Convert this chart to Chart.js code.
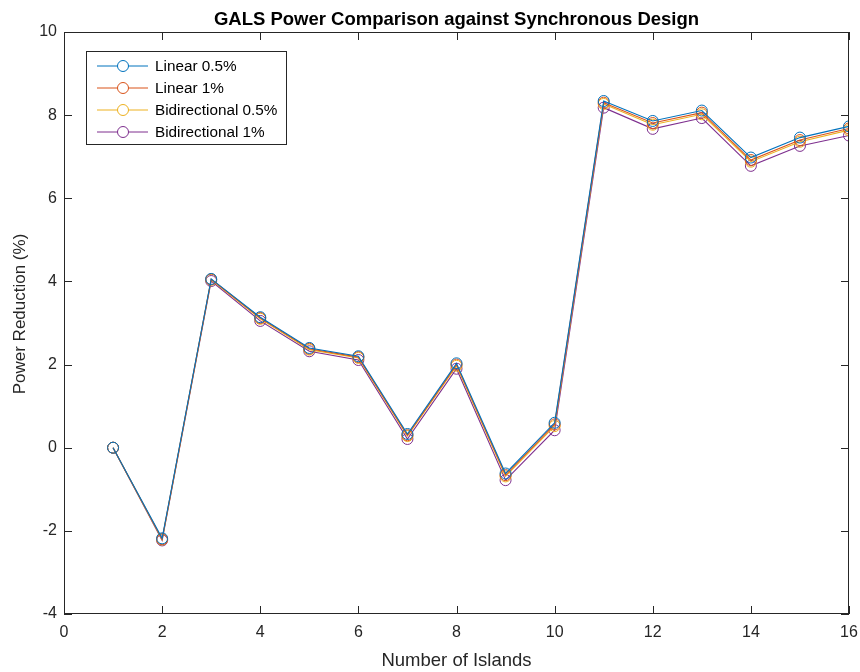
<!DOCTYPE html>
<html>
<head>
<meta charset="utf-8">
<script src="https://cdn.jsdelivr.net/npm/chart.js@4"></script>
<style>
  html, body { margin: 0; padding: 0; background: #fff; }
  canvas { display: block; }
</style>
</head>
<body>
<canvas id="galsChart" width="860" height="672"></canvas>
<script>
// islands on x axis
const islands = [1, 2, 3, 4, 5, 6, 7, 8, 9, 10, 11, 12, 13, 14, 15, 16];

const linear05 = [0, -2.18, 4.06, 3.14, 2.40, 2.20, 0.33, 2.03, -0.62, 0.60, 8.34, 7.86, 8.11, 6.98, 7.46, 7.73];
const linear1 = [0, -2.20, 4.05, 3.12, 2.38, 2.18, 0.30, 2.00, -0.66, 0.56, 8.30, 7.81, 8.06, 6.92, 7.40, 7.68];
const bidir05 = [0, -2.21, 4.04, 3.10, 2.36, 2.16, 0.28, 1.97, -0.69, 0.52, 8.27, 7.77, 8.02, 6.88, 7.36, 7.64];
const bidir1 = [0, -2.23, 4.01, 3.05, 2.32, 2.11, 0.21, 1.90, -0.78, 0.42, 8.18, 7.67, 7.93, 6.78, 7.26, 7.51];

const seriesNames = ['Linear 0.5%', 'Linear 1%', 'Bidirectional 0.5%', 'Bidirectional 1%'];
const seriesColors = ['#0072BD', '#D95319', '#EDB120', '#7E2F8E'];

const xTicks = [0, 2, 4, 6, 8, 10, 12, 14, 16];
const yTicks = [-4, -2, 0, 2, 4, 6, 8, 10];

const FONT = 'Helvetica, "Liberation Sans", Arial, sans-serif';

function toPoints(values) {
  return islands.map((x, i) => ({ x: x, y: values[i] }));
}

const allSeries = [linear05, linear1, bidir05, bidir1];

// matlab-like box, inward ticks, title, y label and legend
const matlabAxes = {
  id: 'matlabAxes',
  afterDraw(chart) {
    const c = chart.ctx;
    const a = chart.chartArea;
    const xs = chart.scales.x;
    const ys = chart.scales.y;
    c.save();
    c.strokeStyle = '#262626';
    c.lineWidth = 1;
    c.strokeRect(a.left + 0.5, a.top + 0.5, a.right - a.left - 1, a.bottom - a.top - 1);
    c.beginPath();
    xTicks.forEach(v => {
      const px = Math.round(xs.getPixelForValue(v)) + 0.5;
      c.moveTo(px, a.bottom); c.lineTo(px, a.bottom - 8);
      c.moveTo(px, a.top); c.lineTo(px, a.top + 8);
    });
    yTicks.forEach(v => {
      const py = Math.round(ys.getPixelForValue(v)) + 0.5;
      c.moveTo(a.left, py); c.lineTo(a.left + 8, py);
      c.moveTo(a.right, py); c.lineTo(a.right - 8, py);
    });
    c.stroke();

    // title
    c.fillStyle = '#000';
    c.font = 'bold 18.5px ' + FONT;
    c.textAlign = 'center';
    c.textBaseline = 'middle';
    c.fillText('GALS Power Comparison against Synchronous Design', (a.left + a.right) / 2, 20);

    // y label
    c.save();
    c.translate(20, 314);
    c.rotate(-Math.PI / 2);
    c.fillStyle = '#262626';
    c.font = '17px ' + FONT;
    c.fillText('Power Reduction (%)', 0, 0);
    c.restore();

    // legend
    const lx = 86, ly = 51, lw = 200, lh = 93;
    c.fillStyle = '#fff';
    c.fillRect(lx, ly, lw, lh);
    c.strokeStyle = '#262626';
    c.strokeRect(lx + 0.5, ly + 0.5, lw, lh);
    c.font = '15.3px ' + FONT;
    c.textAlign = 'left';
    seriesNames.forEach((name, i) => {
      const y = ly + 15 + i * 22;
      c.strokeStyle = seriesColors[i];
      c.beginPath();
      c.moveTo(97, y); c.lineTo(148, y);
      c.stroke();
      c.beginPath();
      c.arc(123, y, 5.5, 0, Math.PI * 2);
      c.fillStyle = '#fff';
      c.fill();
      c.stroke();
      c.fillStyle = '#000';
      c.fillText(name, 155, y + 1);
    });
    c.restore();
  }
};

new Chart(document.getElementById('galsChart'), {
  type: 'line',
  data: {
    datasets: allSeries.map((vals, i) => ({
      label: seriesNames[i],
      data: toPoints(vals),
      borderColor: seriesColors[i],
      backgroundColor: 'transparent',
      borderWidth: 1.1,
      pointRadius: 5.5,
      pointBorderWidth: 1,
      pointBackgroundColor: 'transparent',
      pointBorderColor: seriesColors[i],
      tension: 0
    }))
  },
  options: {
    responsive: false,
    animation: false,
    layout: { padding: { left: 0, top: 32, right: 11, bottom: 0 } },
    plugins: {
      legend: { display: false },
      tooltip: { enabled: false }
    },
    scales: {
      x: {
        type: 'linear',
        min: 0,
        max: 16,
        afterBuildTicks: s => { s.ticks = xTicks.map(v => ({ value: v })); },
        afterFit: s => { s.height = 58; s.paddingLeft = 0; s.paddingRight = 0; },
        grid: { display: false, drawTicks: false },
        border: { display: false },
        ticks: {
          color: '#262626',
          padding: 9,
          font: { family: FONT, size: 16 }
        },
        title: {
          display: true,
          text: 'Number of Islands',
          color: '#262626',
          padding: { top: 4, bottom: 0 },
          font: { family: FONT, size: 18.5 }
        }
      },
      y: {
        min: -4,
        max: 10,
        afterBuildTicks: s => { s.ticks = yTicks.map(v => ({ value: v })); },
        afterFit: s => { s.width = 64; },
        grid: { display: false, drawTicks: false },
        border: { display: false },
        ticks: {
          color: '#262626',
          padding: 7,
          font: { family: FONT, size: 16 }
        }
      }
    }
  },
  plugins: [matlabAxes]
});
</script>
</body>
</html>
